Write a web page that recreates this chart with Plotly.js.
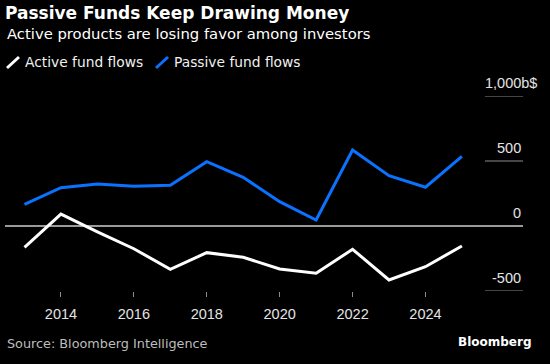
<!DOCTYPE html>
<html>
<head>
<meta charset="utf-8">
<script src="https://cdn.plot.ly/plotly-3.0.1.min.js"></script>
<style>
  html, body { margin: 0; padding: 0; background: #000; }
  #chart { width: 550px; height: 364px; }
</style>
</head>
<body>
<div id="chart"></div>
<script>
// ---- Data ----
const years = [2013, 2014, 2015, 2016, 2017, 2018, 2019, 2020, 2021, 2022, 2023, 2024, 2025];
const activeFlows  = [-164, 92, -45, -175, -333, -205, -241, -331, -364, -179, -415, -313, -154];
const passiveFlows = [167, 295, 323, 305, 313, 495, 375, 187, 46, 585, 387, 298, 536];
const xTickVals = [2014, 2016, 2018, 2020, 2022, 2024];
const yTickVals = [1000, 500, 0, -500];
const yTickText = ["1,000b$", "500", "0", "-500"];
const seriesNames = ["Active fund flows", "Passive fund flows"];

// ---- Layout helpers (pixel -> paper) ----
const W = 550, H = 364;
const L = 5, R = 523, T = 96, B = 291;
const PX = px => (px - L) / (R - L);
const PY = py => (B - py) / (B - T);

const ACTIVE = "#ffffff";
const PASSIVE = "#0a72ff";
const GRID = "#8c8c8c";
const TXT = "#e4e4e4";

const traces = [
  { x: years, y: activeFlows, name: seriesNames[0], type: "scatter", mode: "lines",
    line: { color: ACTIVE, width: 3 }, hoverinfo: "skip" },
  { x: years, y: passiveFlows, name: seriesNames[1], type: "scatter", mode: "lines",
    line: { color: PASSIVE, width: 3 }, hoverinfo: "skip" }
];

const shapes = [];
yTickVals.forEach(v => {
  if (v !== 0) {
    shapes.push({ type: "line", xref: "paper", yref: "y", x0: PX(485), x1: 1, y0: v, y1: v,
      line: { color: GRID, width: 1 }, layer: "below" });
  }
});
// legend slashes
shapes.push({ type: "line", xref: "paper", yref: "paper", x0: PX(7), y0: PY(68), x1: PX(19), y1: PY(57),
  line: { color: ACTIVE, width: 3 } });
shapes.push({ type: "line", xref: "paper", yref: "paper", x0: PX(156), y0: PY(68), x1: PX(168), y1: PY(57),
  line: { color: PASSIVE, width: 3 } });

const annotations = [];
yTickVals.forEach((v, i) => {
  const isTop = i === 0;
  annotations.push({ xref: "paper", yref: "y", x: isTop ? PX(539) : 1, y: v, xanchor: "right", yanchor: "middle",
    yshift: 13, text: yTickText[i], showarrow: false,
    font: { family: "Liberation Sans, Arial, sans-serif", size: 14.5, color: TXT } });
});
annotations.push({ xref: "paper", yref: "paper", x: PX(5), y: PY(33), xanchor: "left", yanchor: "middle",
  text: "Active products are losing favor among investors", showarrow: false,
  font: { family: "DejaVu Sans, sans-serif", size: 14.8, color: "#ffffff" } });
annotations.push({ xref: "paper", yref: "paper", x: PX(23), y: PY(62), xanchor: "left", yanchor: "middle",
  text: seriesNames[0], showarrow: false,
  font: { family: "DejaVu Sans, sans-serif", size: 13.8, color: "#f0f0f0" } });
annotations.push({ xref: "paper", yref: "paper", x: PX(172), y: PY(62), xanchor: "left", yanchor: "middle",
  text: seriesNames[1], showarrow: false,
  font: { family: "DejaVu Sans, sans-serif", size: 13.8, color: "#f0f0f0" } });
annotations.push({ xref: "paper", yref: "paper", x: PX(5), y: PY(343), xanchor: "left", yanchor: "middle",
  text: "Source: Bloomberg Intelligence", showarrow: false,
  font: { family: "DejaVu Sans, sans-serif", size: 12.8, color: "#bdbdbd" } });
annotations.push({ xref: "paper", yref: "paper", x: PX(534), y: PY(342), xanchor: "right", yanchor: "middle",
  text: "<b>Bloomberg</b>", showarrow: false,
  font: { family: "DejaVu Sans, sans-serif", size: 12, color: "#ffffff" } });

const layout = {
  width: W, height: H,
  paper_bgcolor: "#000", plot_bgcolor: "#000",
  margin: { l: L, r: W - R, t: T, b: H - B, pad: 0 },
  showlegend: false,
  title: { text: "<b>Passive Funds Keep Drawing Money</b>", xref: "container", yref: "container",
    x: 5 / W, xanchor: "left", y: 1 - 13 / H, yanchor: "middle",
    font: { family: "DejaVu Sans, sans-serif", size: 17, color: "#ffffff" } },
  xaxis: {
    range: [2012.465, 2026.676], tickvals: xTickVals, ticktext: xTickVals.map(String),
    ticks: "outside", ticklen: 5, tickwidth: 1, tickcolor: GRID, ticklabelstandoff: 5,
    showgrid: false, zeroline: false, showline: false, fixedrange: true,
    tickfont: { family: "Liberation Sans, Arial, sans-serif", size: 14.5, color: TXT }
  },
  yaxis: {
    range: [-500, 1000], showgrid: false, showticklabels: false, ticks: "",
    zeroline: true, zerolinecolor: "#9a9a9a", zerolinewidth: 1.5, showline: false, fixedrange: true
  },
  shapes: shapes,
  annotations: annotations
};

Plotly.newPlot("chart", traces, layout, { displayModeBar: false, staticPlot: true });
</script>
</body>
</html>
